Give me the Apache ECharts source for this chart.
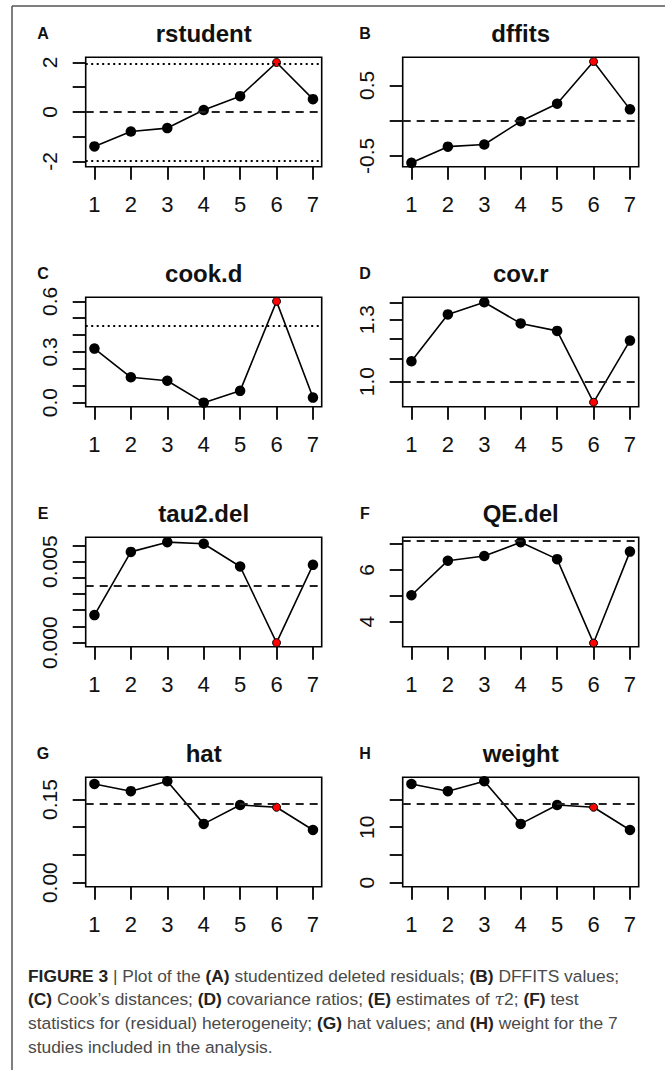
<!DOCTYPE html>
<html>
<head>
<meta charset="utf-8">
<script src="https://cdn.jsdelivr.net/npm/echarts@6/dist/echarts.min.js"></script>
<style>
  html, body { margin: 0; padding: 0; background: #fff; }
  #chart { width: 665px; height: 1070px; }
</style>
</head>
<body>
<div id="chart"></div>
<script>
// study index on x axis, study 6 is the flagged (red) one in every panel
const studies = [1, 2, 3, 4, 5, 6, 7];
const influential = 6;

const rstudent = [-1.39, -0.79, -0.65, 0.08, 0.64, 2.00, 0.52];
const dffits   = [-0.60, -0.37, -0.34, -0.01, 0.24, 0.84, 0.16];
const cookD    = [0.32, 0.15, 0.13, 0.00, 0.07, 0.60, 0.03];
const covR     = [1.09, 1.33, 1.40, 1.28, 1.24, 0.916, 1.19];
const tau2Del  = [0.0017, 0.0056, 0.0062, 0.0061, 0.0047, 0.0000, 0.0048];
const qeDel    = [5.02, 6.35, 6.53, 7.06, 6.41, 3.18, 6.70];
const hatVals  = [0.178, 0.165, 0.183, 0.106, 0.140, 0.136, 0.095];
const weights  = [17.8, 16.5, 18.3, 10.6, 14.0, 13.6, 9.5];

// y ticks / labelled ticks per panel
const ticksA = [-2, -1, 0, 1, 2],             labelsA = [-2, 0, 2];
const ticksB = [-0.5, 0, 0.5],                labelsB = [-0.5, 0.5];
const ticksC = [0, 0.1, 0.2, 0.3, 0.4, 0.5, 0.6], labelsC = [0, 0.3, 0.6];
const ticksD = [1.0, 1.1, 1.2, 1.3, 1.4],     labelsD = [1.0, 1.3];
const ticksE = [0, 0.001, 0.002, 0.003, 0.004, 0.005, 0.006], labelsE = [0, 0.005];
const ticksF = [4, 5, 6, 7],                  labelsF = [4, 6];
const ticksG = [0, 0.05, 0.10, 0.15],         labelsG = [0, 0.15];
const ticksH = [0, 5, 10, 15],                labelsH = [0, 10];

const panels = [
  { letter: 'A', title: 'rstudent', values: rstudent, min: -2.21, max: 2.21, ticks: ticksA, labels: labelsA, dec: 0,
    refs: [{ v: 0, dot: false }, { v: 1.96, dot: true }, { v: -1.96, dot: true }] },
  { letter: 'B', title: 'dffits', values: dffits, min: -0.655, max: 0.90, ticks: ticksB, labels: labelsB, dec: 1,
    refs: [{ v: 0, dot: false }] },
  { letter: 'C', title: 'cook.d', values: cookD, min: -0.024, max: 0.624, ticks: ticksC, labels: labelsC, dec: 1,
    refs: [{ v: 0.455, dot: true }] },
  { letter: 'D', title: 'cov.r', values: covR, min: 0.899, max: 1.43, ticks: ticksD, labels: labelsD, dec: 1, log: true,
    refs: [{ v: 1.0, dot: false }] },
  { letter: 'E', title: 'tau2.del', values: tau2Del, min: -0.00025, max: 0.0065, ticks: ticksE, labels: labelsE, dec: 3,
    refs: [{ v: 0.0035, dot: false }] },
  { letter: 'F', title: 'QE.del', values: qeDel, min: 3.04, max: 7.25, ticks: ticksF, labels: labelsF, dec: 0,
    refs: [{ v: 7.12, dot: false }] },
  { letter: 'G', title: 'hat', values: hatVals, min: -0.0073, max: 0.19, ticks: ticksG, labels: labelsG, dec: 2,
    refs: [{ v: 0.143, dot: false }] },
  { letter: 'H', title: 'weight', values: weights, min: -0.73, max: 19.0, ticks: ticksH, labels: labelsH, dec: 0,
    refs: [{ v: 14.29, dot: false }] }
];

const FONT = "'Liberation Sans', Arial, sans-serif";
const colLeft = [85.7, 402.7];
const letterX = [43, 365];
const rowTop = [57.3, 297.3, 537.3, 777.3];
const boxW = 236, boxH = 109.4;

const grid = [], xAxis = [], yAxis = [], series = [], graphic = [];

panels.forEach((p, i) => {
  const col = i % 2, row = Math.floor(i / 2);
  const left = colLeft[col], top = rowTop[row];

  grid.push({
    left: left, top: top, width: boxW, height: boxH,
    show: true, borderColor: '#000', borderWidth: 1.6, backgroundColor: 'transparent',
    containLabel: false, outerBoundsMode: 'none'
  });

  xAxis.push({
    type: 'value', gridIndex: i, min: 0.76, max: 7.24,
    splitLine: { show: false },
    axisLine: { show: false, onZero: false },
    axisTick: { show: true, inside: false, length: 13, customValues: studies,
      lineStyle: { color: '#000', width: 1.8 } },
    axisLabel: { customValues: studies, margin: 27, fontSize: 22, color: '#111', fontFamily: FONT }
  });

  yAxis.push({
    type: p.log ? 'log' : 'value', gridIndex: i, min: p.min, max: p.max,
    splitLine: { show: false },
    axisLine: { show: false, onZero: false },
    axisTick: { show: true, inside: false, length: 13, customValues: p.ticks,
      lineStyle: { color: '#000', width: 1.8 } },
    axisLabel: { customValues: p.labels, rotate: 90, margin: 26, fontSize: 21, color: '#111', fontFamily: FONT,
      formatter: v => Number(v).toFixed(p.dec) }
  });

  series.push({
    type: 'line', xAxisIndex: i, yAxisIndex: i,
    symbol: 'circle', symbolSize: 10.5,
    lineStyle: { color: '#000', width: 1.6 },
    itemStyle: { color: '#000' },
    data: studies.map((s, k) => s === influential
      ? { value: [s, p.values[k]], symbolSize: 8, itemStyle: { color: '#ff0000', borderColor: '#000', borderWidth: 1 } }
      : [s, p.values[k]]),
    markLine: {
      silent: true, symbol: ['none', 'none'], label: { show: false }, animation: false, precision: 6,
      data: p.refs.map(r => ({
        yAxis: r.v,
        lineStyle: r.dot
          ? { type: [2, 3.5], color: '#000', width: 2 }
          : { type: [8, 6], color: '#222', width: 2 }
      }))
    }
  });

  graphic.push({
    type: 'text', x: left + boxW / 2, y: top - 24,
    style: { text: p.title, fill: '#111', font: 'bold 24px ' + FONT, align: 'center', verticalAlign: 'middle' }
  });
  graphic.push({
    type: 'text', x: letterX[col], y: top - 24,
    style: { text: p.letter, fill: '#111', font: 'bold 16px ' + FONT, align: 'center', verticalAlign: 'middle' }
  });
});

// outer figure frame
graphic.push({ type: 'line', shape: { x1: 12, y1: 6, x2: 665, y2: 6 }, style: { stroke: '#555', lineWidth: 1.5 } });
graphic.push({ type: 'line', shape: { x1: 12, y1: 6, x2: 12, y2: 1070 }, style: { stroke: '#555', lineWidth: 1.5 } });

// caption
const CAP_FONT = "'Liberation Sans', Arial, sans-serif";
const captionLines = [
  '{b|FIGURE 3} | Plot of the {b|(A)} studentized deleted residuals; {b|(B)} DFFITS values;',
  '{b|(C)} Cook\u2019s distances; {b|(D)} covariance ratios; {b|(E)} estimates of {i|\u03c4}2; {b|(F)} test',
  'statistics for (residual) heterogeneity; {b|(G)} hat values; and {b|(H)} weight for the 7',
  'studies included in the analysis.'
];
const captionY = [975.5, 999.3, 1023.1, 1046.9];
captionLines.forEach((t, k) => {
  graphic.push({
    type: 'text', x: 28, y: captionY[k],
    style: {
      text: t, fill: '#4a4a4a', fontSize: 17.4, fontFamily: CAP_FONT, verticalAlign: 'middle', align: 'left',
      rich: {
        b: { fontWeight: 'bold', fill: '#222', fontSize: 17.4, fontFamily: CAP_FONT },
        i: { fontStyle: 'italic', fill: '#4a4a4a', fontSize: 17.4, fontFamily: "'DejaVu Serif', serif" }
      }
    }
  });
});

const chart = echarts.init(document.getElementById('chart'), null, { renderer: 'svg' });
chart.setOption({
  animation: false,
  backgroundColor: '#fff',
  grid: grid,
  xAxis: xAxis,
  yAxis: yAxis,
  series: series,
  graphic: graphic
});
</script>
</body>
</html>
